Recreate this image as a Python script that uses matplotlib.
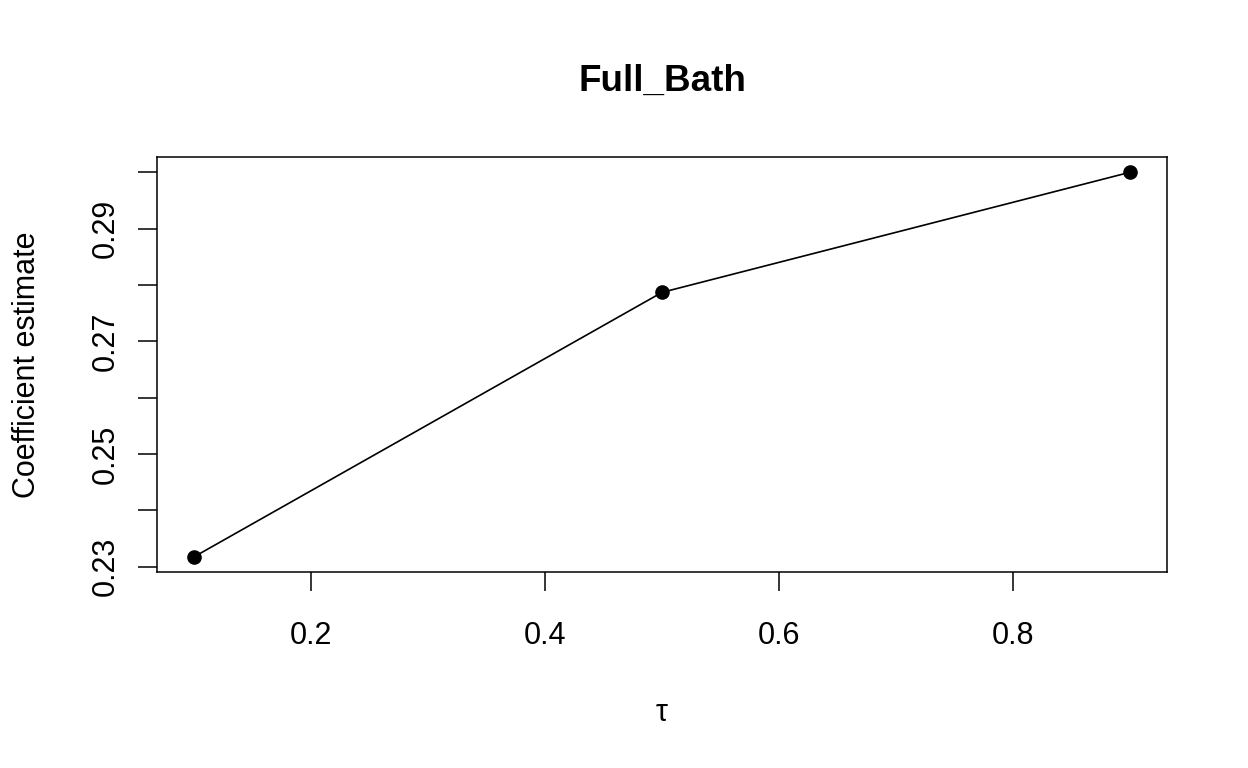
import numpy as np
import matplotlib
matplotlib.use('Agg')
import matplotlib.pyplot as plt

plt.rcParams['font.family'] = ['Liberation Sans', 'DejaVu Sans']

# quantile levels and coefficient estimates
tau = [0.1, 0.5, 0.9]
coef = [0.2318, 0.2787, 0.3000]

xticks = [0.2, 0.4, 0.6, 0.8]
yticks = [0.23, 0.24, 0.25, 0.26, 0.27, 0.28, 0.29, 0.30]
ylabels = ['0.23', '', '0.25', '', '0.27', '', '0.29', '']

W, H = 1248, 768
fig = plt.figure(figsize=(W / 100, H / 100), dpi=100)
ax = fig.add_axes([157 / W, 1 - 572 / H, (1167 - 157) / W, (572 - 157) / H])

ax.plot(tau, coef, color='black', lw=1.2, marker='o', ms=9.5)

# R-style 4% axis padding
xr = max(tau) - min(tau)
yr = max(coef) - min(coef)
ax.set_xlim(min(tau) - 0.04 * xr, max(tau) + 0.04 * xr)
ax.set_ylim(min(coef) - 0.04 * yr, max(coef) + 0.04 * yr)

ax.set_xticks(xticks)
ax.set_xticklabels([f'{v:.1f}' for v in xticks])
ax.set_yticks(yticks)
ax.set_yticklabels(ylabels, rotation=90, va='center')
ax.tick_params(axis='both', direction='out', length=14, width=1.1,
               labelsize=22)
ax.tick_params(axis='x', pad=21)
ax.tick_params(axis='y', pad=12)
for s in ax.spines.values():
    s.set_linewidth(1.1)

fig.text(662 / W, 1 - 713 / H, 'τ', fontsize=22, ha='center', va='center')
fig.text(27 / W, 1 - 365 / H, 'Coefficient estimate', fontsize=22,
         rotation=90, ha='center', va='center')
fig.text(662 / W, 1 - 81 / H, 'Full_Bath', fontsize=26.5, fontweight='bold',
         ha='center', va='center')

fig.savefig('out.png', dpi=100)
